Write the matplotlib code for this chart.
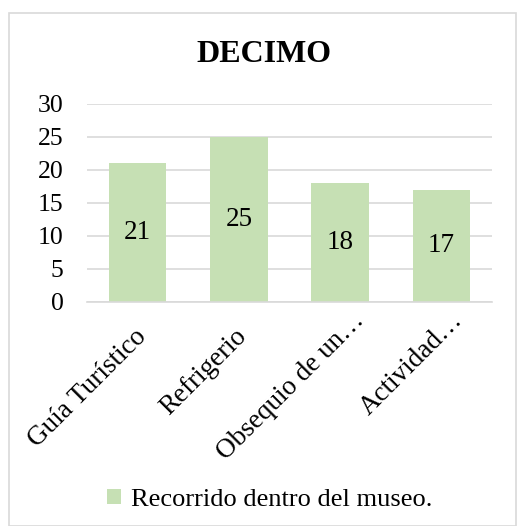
import matplotlib
matplotlib.use("Agg")
import matplotlib.pyplot as plt
from matplotlib.patches import Rectangle
from matplotlib.transforms import ScaledTranslation

title = "DECIMO"
categories = ["Guía Turístico", "Refrigerio", "Obsequio de un…", "Actividad…"]
values = [21, 25, 18, 17]
series_name = "Recorrido dentro del museo."
yticks = [0, 5, 10, 15, 20, 25, 30]

plt.rcParams['font.family'] = ['Liberation Serif', 'DejaVu Serif']

W, H = 517, 526
fig = plt.figure(figsize=(W/100, H/100), dpi=100)
fig.patches.append(Rectangle((9/W, 0.0), (W-10)/W, 1-13/H, transform=fig.transFigure,
                             fill=False, edgecolor='#d9d9d9', linewidth=1.2))

ax = fig.add_axes([87/W, 1-302/H, (492-87)/W, (302-103.5)/H])
bar_color = '#c6e0b4'
x = list(range(len(categories)))
bars = ax.bar(x, values, width=0.57, color=bar_color, label=series_name, zorder=2)
for xi, v in zip(x, values):
    ax.text(xi, v/2, str(v), ha='center', va='center', fontsize=19.5, zorder=3)

ax.set_ylim(0, 30)
ax.set_xlim(-0.5, len(categories)-0.5)
ax.set_yticks(yticks)
ax.set_yticklabels([str(t) for t in yticks], fontsize=18.5)
ax.yaxis.grid(True, color='#d9d9d9', linewidth=1.2, zorder=0)
ax.set_axisbelow(True)
for s in ['top', 'right', 'left']:
    ax.spines[s].set_visible(False)
ax.spines['bottom'].set_color('#d9d9d9')
ax.spines['bottom'].set_linewidth(1.2)
ax.tick_params(axis='y', length=0, pad=17)
ax.set_xticks(x)
ax.set_xticklabels(categories, rotation=45, ha='right', rotation_mode='anchor', fontsize=19.5)
ax.tick_params(axis='x', length=0, pad=10)

# small per-label layout nudges (pixels) to mimic the original placement
label_nudges = [(-4, -8), (-5, -8), (12, 8), (9, 8)]
for lbl, (dx, dy) in zip(ax.get_xticklabels(), label_nudges):
    lbl.set_transform(lbl.get_transform() + ScaledTranslation(dx/100, dy/100, fig.dpi_scale_trans))

fig.text(264/W, 1-54/H, title, ha='center', va='center', fontsize=23, fontweight='bold')

fig.legend(handles=[bars], labels=[series_name], loc='center', bbox_to_anchor=(270/W, 1-500/H),
           frameon=False, fontsize=19, handlelength=0.5, handleheight=0.5, handletextpad=0.4)

fig.savefig('out.png', dpi=100)
